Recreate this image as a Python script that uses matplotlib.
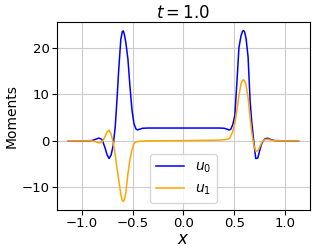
import matplotlib
matplotlib.use("Agg")
import matplotlib.pyplot as plt

# shared x grid
x = [-1.13, -1.0, -0.9, -0.86, -0.83, -0.80, -0.77, -0.75, -0.73, -0.71,
     -0.69, -0.67, -0.655, -0.635, -0.615, -0.60, -0.59, -0.58, -0.565, -0.545,
     -0.525, -0.505, -0.485, -0.465, -0.45, -0.43, -0.40, -0.35, -0.2, 0.0,
     0.2, 0.35, 0.40, 0.43, 0.45, 0.465, 0.485, 0.505, 0.525, 0.545,
     0.565, 0.58, 0.59, 0.60, 0.615, 0.635, 0.655, 0.67, 0.69, 0.71,
     0.73, 0.75, 0.77, 0.80, 0.83, 0.86, 0.9, 1.0, 1.13]

u0 = [0.0, 0.0, 0.05, 0.35, 0.6, 0.3, -1.5, -3.0, -3.8, -3.0,
      -1.0, 3.0, 8.0, 15.5, 21.8, 23.5, 23.6, 22.8, 21.0, 17.5,
      11.6, 6.5, 3.6, 2.5, 2.35, 2.5, 2.7, 2.75, 2.75, 2.75,
      2.75, 2.75, 2.7, 2.5, 2.3, 2.5, 3.5, 5.5, 12.5, 20.0,
      22.5, 23.5, 23.7, 23.4, 22.0, 18.0, 8.5, 4.3, 0.0, -3.8,
      -3.7, -2.0, -0.5, 0.45, 0.55, 0.25, 0.05, 0.0, 0.0]

u1 = [0.0, 0.0, 0.0, -0.2, -0.45, -0.3, 0.9, 1.9, 2.3, 1.4,
      -0.3, -3.0, -5.5, -8.5, -11.5, -12.9, -13.0, -12.6, -11.0, -7.0,
      -4.0, -1.8, -0.6, -0.2, -0.15, -0.1, -0.05, 0.0, 0.02, 0.05,
      0.1, 0.15, 0.25, 0.35, 0.5, 1.0, 2.0, 3.8, 6.5, 9.7,
      12.2, 13.0, 13.1, 12.9, 12.0, 9.2, 5.0, 2.0, -0.8, -2.2,
      -2.2, -1.3, -0.3, 0.3, 0.35, 0.15, 0.0, 0.0, 0.0]

fig, ax = plt.subplots(figsize=(3.16, 2.52), dpi=100)
fig.subplots_adjust(left=0.18, right=0.981, bottom=0.167, top=0.913)

ax.plot(x, u0, color='blue', lw=1.1, label='$u_0$')
ax.plot(x, u1, color='orange', lw=1.1, label='$u_1$')

ax.set_xticks([-1.0, -0.5, 0.0, 0.5, 1.0])
ax.set_yticks([-10, 0, 10, 20])
ax.tick_params(labelsize=9.5, pad=1.8)
ax.grid(True, color='#cccccc', lw=0.8)
ax.set_xlabel('$x$', fontsize=12, labelpad=0)
ax.set_ylabel('Moments', fontsize=10, labelpad=2)
ax.set_title('$t = 1.0$', fontsize=12, pad=3)
ax.legend(loc='lower center', fontsize=10)

plt.savefig('out.png', dpi=100)
